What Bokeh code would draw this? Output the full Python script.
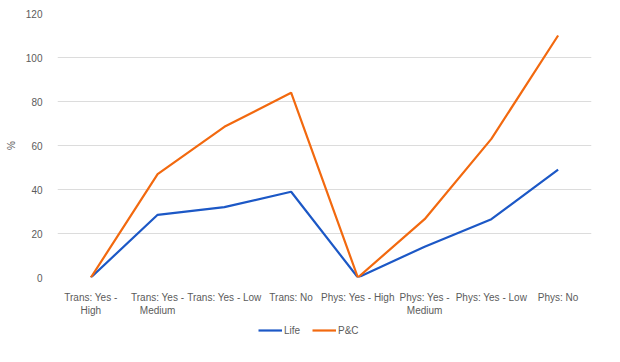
from bokeh.plotting import figure
from bokeh.layouts import column
from bokeh.models import Legend, LegendItem, Range1d, FixedTicker
from bokeh.embed import file_html
from bokeh.resources import INLINE

categories = ["Trans: Yes -\nHigh", "Trans: Yes -\nMedium", "Trans: Yes - Low", "Trans: No",
              "Phys: Yes - High", "Phys: Yes -\nMedium", "Phys: Yes - Low", "Phys: No"]
life = [0, 28.5, 32, 39, 0, 14, 26.5, 49]
pc = [0, 47, 68.5, 84, 0, 26.5, 63, 110]
y_ticks = [0, 20, 40, 60, 80, 100, 120]
series_names = ["Life", "P&C"]
series_values = [life, pc]
series_colors = ["#1c58c6", "#f2690f"]

FONT = "Liberation Sans"
TXT = "#5b5b5b"

p = figure(x_range=categories, width=604, height=318, output_backend="svg",
           toolbar_location=None, min_border_left=57, min_border_right=13,
           min_border_top=13, min_border_bottom=36)
p.y_range = Range1d(0, 120)
p.outline_line_color = None
p.border_fill_color = "white"

for vals, col in zip(series_values, series_colors):
    p.line(categories, vals, line_color=col, line_width=2.2)

p.xgrid.grid_line_color = None
p.ygrid.grid_line_color = "#dcdcdc"
p.ygrid.grid_line_width = 1

p.yaxis.ticker = FixedTicker(ticks=y_ticks)
for ax in (p.xaxis[0], p.yaxis[0]):
    ax.axis_line_color = None
    ax.major_tick_line_color = None
    ax.minor_tick_line_color = None
    ax.major_label_text_font = FONT
    ax.major_label_text_font_size = "10px"
    ax.major_label_text_color = TXT

p.yaxis.major_label_standoff = 9
p.yaxis.axis_label = "%"
p.yaxis.axis_label_text_font = FONT
p.yaxis.axis_label_text_font_style = "normal"
p.yaxis.axis_label_text_font_size = "10px"
p.yaxis.axis_label_text_color = TXT
p.yaxis.axis_label_standoff = 6
p.xaxis.major_label_standoff = 8

# legend strip below the chart (its series lines fall outside its empty range)
lg = figure(width=604, height=28, output_backend="svg", toolbar_location=None,
            x_axis_type=None, y_axis_type=None, min_border=0,
            x_range=categories, y_range=Range1d(1000, 1001))
lg.outline_line_color = None
lg.xgrid.grid_line_color = None
lg.ygrid.grid_line_color = None
items = []
for name, vals, col in zip(series_names, series_values, series_colors):
    r = lg.line(categories, vals, line_color=col, line_width=2.2)
    items.append(LegendItem(label=name, renderers=[r]))
legend = Legend(items=items, orientation="horizontal", location=(201, 10),
                label_text_font=FONT, label_text_font_size="10px",
                label_text_color=TXT, glyph_width=24, glyph_height=12,
                label_standoff=2, spacing=8, padding=0, margin=0,
                border_line_color=None, background_fill_alpha=0,
                label_height=12)
lg.add_layout(legend, "center")

layout = column(p, lg, spacing=0)
open("out.html", "w").write(file_html(layout, INLINE))
